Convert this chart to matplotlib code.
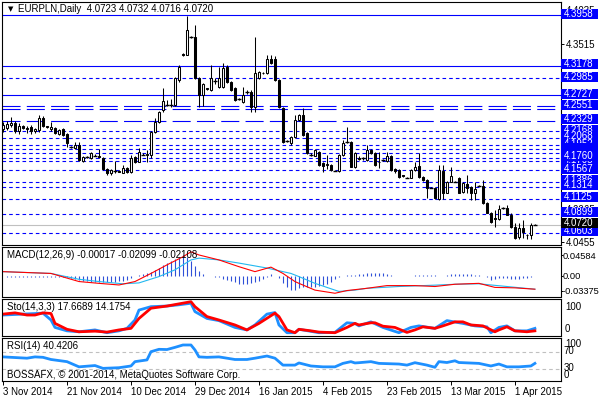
#!/usr/bin/env python3
"""
EURPLN daily candles with MACD, Stochastic and RSI panes, MetaTrader look.
"""

import matplotlib
matplotlib.use('Agg')
import matplotlib.pyplot as plt
from matplotlib.patches import Rectangle
from matplotlib.transforms import blended_transform_factory

plt.rcParams['font.family'] = ['Liberation Sans', 'DejaVu Sans']
plt.rcParams['font.size'] = 7
plt.rcParams['lines.scale_dashes'] = False

# ---- price bars (one per session, Sunday bars included) ----
opens = [
    4.2207, 4.2223, 4.2269, 4.2300, 4.2177, 4.2254, 4.2223, 4.2238, 4.2177, 4.2192,
    4.2377, 4.2254, 4.2207, 4.2223, 4.2130, 4.2207, 4.2130, 4.1938, 4.1915, 4.1961,
    4.1715, 4.1776, 4.1761, 4.1800, 4.1792, 4.1761, 4.1591, 4.1530, 4.1570, 4.1561,
    4.1530, 4.1607, 4.1545, 4.1776, 4.1699, 4.1815, 4.1800, 4.1807, 4.2161, 4.2315,
    4.2500, 4.2577, 4.2570, 4.2577, 4.2962, 4.3363, 4.3347, 4.3620, 4.3624, 4.2993,
    4.2731, 4.2820, 4.2808, 4.2940, 4.2854, 4.2854, 4.3162, 4.2931, 4.2839, 4.2660,
    4.2623, 4.2770, 4.2777, 4.2546, 4.2993, 4.3070, 4.3070, 4.3285, 4.3285, 4.2962,
    4.2531, 4.2020, 4.1992, 4.2084, 4.2346, 4.2423, 4.2146, 4.1810, 4.1792, 4.1854,
    4.1684, 4.1650, 4.1653, 4.1565, 4.1561, 4.1807, 4.2008, 4.2008, 4.1622, 4.1761,
    4.1745, 4.1730, 4.1884, 4.1838, 4.1699, 4.1725, 4.1715, 4.1792, 4.1580, 4.1576,
    4.1490, 4.1455, 4.1453, 4.1576, 4.1638, 4.1468, 4.1422, 4.1300, 4.1299, 4.1129,
    4.1561, 4.1222, 4.1391, 4.1395, 4.1453, 4.1237, 4.1360, 4.1314, 4.1222, 4.1330,
    4.1330, 4.1068, 4.0914, 4.0830, 4.0821, 4.0991, 4.0991, 4.0883, 4.0698, 4.0544,
    4.0683, 4.0575, 4.0560, 4.0723]
highs = [
    4.2315, 4.2330, 4.2392, 4.2330, 4.2300, 4.2269, 4.2254, 4.2269, 4.2223, 4.2423,
    4.2408, 4.2254, 4.2315, 4.2238, 4.2207, 4.2223, 4.2146, 4.1946, 4.2008, 4.2008,
    4.1792, 4.1792, 4.1854, 4.1810, 4.1900, 4.1776, 4.1600, 4.1590, 4.1715, 4.1565,
    4.1653, 4.1620, 4.1807, 4.1790, 4.1915, 4.1830, 4.1884, 4.2177, 4.2377, 4.2480,
    4.2839, 4.2654, 4.2670, 4.3010, 4.3193, 4.3380, 4.3948, 4.3640, 4.3809, 4.3000,
    4.2916, 4.2840, 4.3193, 4.2993, 4.3162, 4.3224, 4.3193, 4.2946, 4.2850, 4.2680,
    4.2854, 4.2800, 4.2800, 4.3624, 4.3100, 4.3085, 4.3347, 4.3347, 4.3330, 4.2980,
    4.2546, 4.2040, 4.2100, 4.2423, 4.2440, 4.2531, 4.2160, 4.1830, 4.1900, 4.1870,
    4.1700, 4.1807, 4.1670, 4.1575, 4.1820, 4.2038, 4.2238, 4.2020, 4.1850, 4.1780,
    4.1765, 4.1961, 4.1900, 4.1850, 4.1854, 4.1745, 4.1854, 4.1807, 4.1600, 4.1590,
    4.1500, 4.1470, 4.1590, 4.1699, 4.1838, 4.1480, 4.1430, 4.1310, 4.1310, 4.1653,
    4.1653, 4.1400, 4.1622, 4.1405, 4.1470, 4.1390, 4.1499, 4.1330, 4.1391, 4.1340,
    4.1422, 4.1080, 4.0930, 4.0960, 4.1037, 4.1005, 4.1037, 4.0900, 4.0760, 4.0760,
    4.0806, 4.0590, 4.0760, 4.0732]
lows = [
    4.2161, 4.2192, 4.2238, 4.2146, 4.2130, 4.2207, 4.2146, 4.2130, 4.2146, 4.2161,
    4.2238, 4.2223, 4.2177, 4.2130, 4.2115, 4.2100, 4.1930, 4.1915, 4.1900, 4.1715,
    4.1700, 4.1761, 4.1745, 4.1780, 4.1761, 4.1576, 4.1499, 4.1499, 4.1530, 4.1540,
    4.1520, 4.1530, 4.1530, 4.1684, 4.1690, 4.1800, 4.1699, 4.1761, 4.2146, 4.2300,
    4.2469, 4.2560, 4.2546, 4.2560, 4.2930, 4.3330, 4.3347, 4.3600, 4.2970, 4.2546,
    4.2562, 4.2810, 4.2790, 4.2900, 4.2840, 4.2840, 4.2910, 4.2790, 4.2630, 4.2650,
    4.2610, 4.2750, 4.2469, 4.2469, 4.2980, 4.3050, 4.3050, 4.3210, 4.2940, 4.2530,
    4.1980, 4.2000, 4.1961, 4.2070, 4.2330, 4.2100, 4.1820, 4.1790, 4.1780, 4.1640,
    4.1545, 4.1591, 4.1560, 4.1550, 4.1545, 4.1790, 4.1990, 4.1610, 4.1600, 4.1730,
    4.1730, 4.1715, 4.1820, 4.1640, 4.1607, 4.1715, 4.1700, 4.1560, 4.1530, 4.1450,
    4.1460, 4.1440, 4.1440, 4.1560, 4.1450, 4.1400, 4.1145, 4.1290, 4.1130, 4.1110,
    4.1129, 4.1210, 4.1380, 4.1380, 4.1210, 4.1220, 4.1222, 4.1114, 4.1114, 4.1320,
    4.1050, 4.0900, 4.0760, 4.0698, 4.0806, 4.0975, 4.0870, 4.0680, 4.0513, 4.0513,
    4.0529, 4.0513, 4.0513, 4.0716]
closes = [
    4.2269, 4.2284, 4.2300, 4.2177, 4.2254, 4.2223, 4.2207, 4.2177, 4.2207, 4.2377,
    4.2254, 4.2238, 4.2238, 4.2146, 4.2192, 4.2115, 4.1992, 4.1930, 4.1961, 4.1730,
    4.1776, 4.1770, 4.1838, 4.1792, 4.1776, 4.1591, 4.1530, 4.1576, 4.1561, 4.1545,
    4.1607, 4.1545, 4.1761, 4.1699, 4.1854, 4.1807, 4.1815, 4.2161, 4.2315, 4.2469,
    4.2639, 4.2570, 4.2577, 4.2993, 4.3162, 4.3347, 4.3732, 4.3624, 4.2993, 4.2731,
    4.2900, 4.2830, 4.2993, 4.2946, 4.2993, 4.3147, 4.2931, 4.2808, 4.2654, 4.2665,
    4.2731, 4.2777, 4.2546, 4.3070, 4.3085, 4.3060, 4.3285, 4.3224, 4.2962, 4.2546,
    4.2008, 4.2023, 4.2084, 4.2346, 4.2423, 4.2115, 4.1838, 4.1807, 4.1884, 4.1653,
    4.1638, 4.1660, 4.1576, 4.1561, 4.1807, 4.1992, 4.2000, 4.1622, 4.1838, 4.1745,
    4.1750, 4.1884, 4.1838, 4.1653, 4.1690, 4.1730, 4.1792, 4.1576, 4.1550, 4.1468,
    4.1480, 4.1453, 4.1576, 4.1622, 4.1468, 4.1422, 4.1299, 4.1299, 4.1145, 4.1576,
    4.1222, 4.1391, 4.1484, 4.1391, 4.1222, 4.1376, 4.1299, 4.1222, 4.1283, 4.1330,
    4.1068, 4.0914, 4.0775, 4.0821, 4.0975, 4.0991, 4.0883, 4.0698, 4.0529, 4.0683,
    4.0621, 4.0560, 4.0729, 4.0720]

# horizontal levels drawn on the chart
solid_levels = [4.3958, 4.3178, 4.2727]
long_dash_levels = [4.2551, 4.2510, 4.2329]
short_dash_levels = [4.2985, 4.2168, 4.2068, 4.1952, 4.1890, 4.1838, 4.1760, 4.1705,
                     4.1567, 4.1386, 4.1314, 4.1125, 4.0899, 4.0603]
# price tags on the right, in the order the terminal stacks them
tag_order = [4.3958, 4.3178, 4.2985, 4.2727, 4.2551, 4.2329, 4.2168, 4.2068, 4.1952,
             4.1890, 4.1838, 4.1705, 4.1760, 4.1567, 4.1386, 4.1314, 4.1125, 4.0899, 4.0603]
blank_tags = [4.1890, 4.1838]
last_price = 4.0720
price_scale = [4.4035, 4.3515, 4.0965, 4.0455]

# MACD(12,26,9)
macd_hist = [
    0, -0.002, -0.002, -0.002, -0.002, -0.002, -0.002, -0.002, -0.002, -0.002,
    -0.002, -0.002, -0.002, -0.002, -0.002, -0.002, -0.004, -0.006, -0.008, -0.010,
    -0.011, -0.012, -0.013, -0.014, -0.014, -0.014, -0.014, -0.013, -0.013, -0.012,
    -0.011, -0.009, -0.005, -0.001, 0.002, 0.004, 0.005, 0.009, 0.013, 0.018,
    0.024, 0.028, 0.032, 0.037, 0.042, 0.045, 0.042, 0.033, 0.022, 0.010,
    0.004, 0, 0, -0.002, -0.004, -0.007, -0.009, -0.012, -0.015, -0.018,
    -0.019, -0.019, -0.017, -0.014, -0.011, -0.008, -0.004, 0.003, 0, -0.006,
    -0.017, -0.025, -0.031, -0.032, -0.027, -0.025, -0.024, -0.024, -0.024, -0.023,
    -0.021, -0.019, -0.015, -0.008, -0.003, 0, 0.001, 0.002, 0.002, 0.003,
    0.004, 0.006, 0.006, 0.005, 0.005, 0.006, 0.004, 0.002, 0, 0,
    0, 0, 0, 0.001, 0.001, 0.001, 0.001, 0.001, 0.001, 0,
    0, 0.002, 0.003, 0.004, 0.004, 0.003, 0.003, 0.003, 0.002, 0.002,
    0, -0.003, -0.009, -0.008, -0.006, -0.006, -0.006, -0.008, -0.008, -0.007,
    -0.006, -0.005, -0.003, 0]
macd_x = [0, 12, 19, 24, 29, 33, 37, 41, 45, 47, 49, 54, 59, 63, 67, 70, 73, 74, 78, 83,
          86, 91, 96, 103, 108, 113, 119, 123, 128, 133]
macd_main = [0.009, 0.005, -0.013, -0.017, -0.0206, -0.013, 0.005, 0.024, 0.042, 0.053,
             0.046, 0.035, 0.020, 0.009, 0.019, 0.005, -0.013, -0.017, -0.032, -0.039,
             -0.033, -0.028, -0.022, -0.022, -0.024, -0.019, -0.017, -0.026, -0.027, -0.030]
signal_x = [0, 12, 19, 24, 30, 34, 39, 43, 47, 49, 54, 59, 66, 72, 74, 78, 84, 88, 91, 99,
            108, 113, 119, 126, 133]
macd_signal = [0.009, 0.005, -0.008, -0.013, -0.018, -0.016, -0.002, 0.013, 0.035, 0.039,
               0.035, 0.028, 0.017, 0.005, -0.002, -0.017, -0.035, -0.032, -0.028, -0.024,
               -0.021, -0.019, -0.018, -0.024, -0.030]
macd_scale = [0.04584, 0.0, -0.03375]
macd_scale_labels = ['0.04584', '0.00', '-0.03375']

# Stochastic(14,3,3)
sto_main_x = [0, 10, 12, 13, 16, 19, 23, 26, 29, 31, 33, 34, 37, 41, 44, 47, 48, 51, 54, 58,
              61, 63, 66, 68, 69, 71, 73, 74, 79, 83, 86, 88, 89, 92, 95, 99, 102, 104, 108, 111,
              115, 118, 121, 122, 124, 126, 128, 131, 133]
sto_main = [57, 63, 41, 17, 6, 3, 9, 0, 6, 14, 41, 73, 84, 86, 90, 95, 68, 46, 39, 17,
            9, 25, 60, 65, 25, 0, 0, 11, 0, 1, 32, 30, 22, 35, 17, 0, 17, 22, 14, 39,
            30, 22, 19, 0, 17, 22, 6, 6, 14]
sto_sig_x = [0, 3, 6, 8, 10, 12, 13, 16, 19, 23, 26, 29, 32, 34, 37, 41, 44, 47, 48, 51,
             54, 58, 61, 64, 68, 69, 71, 73, 74, 77, 79, 83, 86, 88, 89, 92, 93, 95, 98, 101,
             103, 105, 108, 110, 113, 115, 117, 120, 123, 124, 126, 128, 131, 133]
sto_signal = [60, 64, 57, 57, 64, 62, 30, 11, 3, 5, 2, 9, 14, 46, 79, 86, 93, 100, 84, 52,
              41, 25, 9, 30, 63, 52, 9, 0, 11, 6, 2, 0, 17, 30, 25, 32, 32, 21, 17, 1,
              9, 19, 14, 22, 35, 35, 25, 22, 3, 9, 19, 6, 3, 6]

# RSI(14)
rsi_x = [0, 6, 8, 10, 12, 16, 19, 23, 25, 29, 32, 33, 36, 37, 39, 41, 43, 45, 47, 48,
         49, 51, 54, 58, 61, 63, 66, 68, 70, 73, 74, 77, 80, 83, 85, 87, 88, 89, 92, 94,
         99, 101, 103, 106, 108, 109, 111, 113, 114, 119, 122, 124, 126, 129, 132, 133]
rsi_vals = [58, 55, 58, 57, 52, 47, 35, 38, 31.5, 33, 37, 47, 51, 70, 75.5, 75, 80, 85.5, 85.5, 74,
            58, 57, 58, 52, 52, 55, 60, 55, 39, 39, 44, 37, 35, 35, 43, 47, 44, 44.6, 47, 43,
            41.5, 39, 44.6, 39, 34, 47, 45, 49, 45, 43, 37, 41.5, 35, 35, 37, 43]
rsi_levels = [70, 30]

date_ticks = [0, 16, 32, 48, 64, 80, 96, 112, 128]
date_labels = ['3 Nov 2014', '21 Nov 2014', '10 Dec 2014', '29 Dec 2014', '16 Jan 2015',
               '4 Feb 2015', '23 Feb 2015', '13 Mar 2015', '1 Apr 2015']

BLUE = '#0000FF'
W, H = 600, 400
LEFT, RIGHT = 2, 560.5


def main():
    fig = plt.figure(figsize=(W / 100, H / 100), dpi=100)
    fig.patch.set_facecolor('white')

    def panel(top, bottom):
        ax = fig.add_axes([LEFT / W, 1 - bottom / H, (RIGHT - LEFT) / W, (bottom - top) / H])
        ax.set_xlim(-0.25, 139.4)
        ax.set_xticks([])
        ax.set_yticks([])
        for s in ax.spines.values():
            s.set_linewidth(0.8)
        return ax

    def ax_frac(px):
        return (px - LEFT) / (RIGHT - LEFT)

    def fig_text(x, y, s, **kw):
        fig.text(x / W, 1 - y / H, s, va='center', ha='left', **kw)

    # ---- main price pane ----
    ax = panel(2, 245)
    ymin, ymax = 4.04133, 4.41632
    ax.set_ylim(ymin, ymax)
    per_px = (ymax - ymin) / (245 - 2)

    for p in solid_levels:
        ax.axhline(p, color=BLUE, lw=0.8, zorder=2)
    for p in long_dash_levels:
        ax.axhline(p, color=BLUE, lw=0.8, dashes=(13, 4.5), zorder=2)
    for p in short_dash_levels:
        ax.axhline(p, color=BLUE, lw=0.8, dashes=(2.6, 2.2), zorder=2)
    ax.axhline(last_price, color='#c0c0c0', lw=0.8, zorder=1)

    idx = list(range(len(closes)))
    ax.vlines(idx, lows, highs, color='black', lw=0.75, zorder=3)
    for i, (o, c) in enumerate(zip(opens, closes)):
        lo, hi = min(o, c), max(o, c)
        if hi - lo < 0.0009:
            ax.hlines(c, i - 0.45, i + 0.45, color='black', lw=1.0, zorder=4)
        else:
            ax.add_patch(Rectangle((i - 0.28, lo), 0.56, hi - lo,
                                   facecolor='white' if c > o else 'black',
                                   edgecolor='black', lw=0.75, zorder=4))

    # right price scale
    ax.yaxis.tick_right()
    ax.set_yticks(price_scale, [f'{p:.4f}' for p in price_scale])
    ax.tick_params(axis='y', length=2.2, width=0.7, pad=1.4, labelsize=7)

    # price tags for the levels, later ones stacked over earlier ones
    blend = blended_transform_factory(ax.transAxes, ax.transData)
    z = [10]

    def tag(p, fc, label=True, lift_px=1.5):
        mid = p + lift_px * per_px
        ax.add_patch(Rectangle((ax_frac(561.5), mid - 5.0 * per_px), 36.5 / (RIGHT - LEFT),
                               10.0 * per_px, transform=blend, facecolor=fc,
                               edgecolor='none', clip_on=False, zorder=z[0]))
        if label:
            ax.text(ax_frac(564), mid, f'{p:.4f}', transform=blend, color='white',
                    va='center', ha='left', clip_on=False, zorder=z[0] + 0.5)
        z[0] += 1

    for p in tag_order:
        tag(p, BLUE, p not in blank_tags)
    tag(last_price, 'black', lift_px=2.6)

    fig_text(7.5, 9.5, '\u25bc', fontsize=5, family='DejaVu Sans')
    fig_text(18, 9.5, 'EURPLN,Daily  {:.4f} {:.4f} {:.4f} {:.4f}'.format(
        opens[-1], highs[-1], lows[-1], closes[-1]))

    # ---- MACD pane ----
    axm = panel(247, 296.5)
    axm.set_ylim(-0.0462, 0.0637)
    axm.vlines(idx, 0, macd_hist, color='#2f50d8', lw=0.8)
    axm.plot(signal_x, macd_signal, color='#22b8f0', lw=0.8)
    axm.plot(macd_x, macd_main, color='#ff0000', lw=0.8)
    axm.yaxis.tick_right()
    axm.set_yticks(macd_scale, macd_scale_labels)
    axm.tick_params(axis='y', length=1.5, width=0.7, pad=0.3, labelsize=6.7)
    fig_text(7, 254.5, 'MACD(12,26,9) -0.00017 -0.02099 -0.02108')

    # ---- Stochastic pane ----
    axs = panel(299, 335.5)
    axs.set_ylim(-9, 108.7)
    axs.plot(sto_main_x, sto_main, color='#1e90ff', lw=2.0)
    axs.plot(sto_sig_x, sto_signal, color='#ff0000', lw=2.0)
    fig_text(7, 307.5, 'Sto(14,3,3) 17.6689 14.1754')

    def side_label(a, val, s, dy_px, x_px=565):
        a.annotate(s, xy=(ax_frac(x_px), val),
                   xycoords=blended_transform_factory(a.transAxes, a.transData),
                   xytext=(0, -dy_px * 0.72), textcoords='offset points',
                   va='center', ha='left', annotation_clip=False)

    side_label(axs, 100, '100', 5)
    side_label(axs, 0, '0', -3.7)

    # ---- RSI pane ----
    axr = panel(337.5, 381)
    axr.set_ylim(2.3, 102.8)
    for lv in rsi_levels:
        axr.axhline(lv, color='#c0c0c0', lw=0.8, dashes=(2.6, 2.2))
    axr.plot(rsi_x, rsi_vals, color='#1e90ff', lw=2.0)
    fig_text(7, 346, 'RSI(14) 40.4206')
    fig_text(7, 375, 'BOSSAFX, \u00a9 2001-2014, MetaQuotes Software Corp.')
    side_label(axr, 100, '100', 5.3)
    side_label(axr, 70, '70', -1, x_px=563.5)
    side_label(axr, 30, '30', -0.7, x_px=563.5)
    side_label(axr, 0, '0', -7, x_px=563.5)

    axr.set_xticks(date_ticks, date_labels)
    axr.tick_params(axis='x', length=3, width=0.7, pad=1.5, labelsize=7)
    for lbl in axr.get_xticklabels():
        lbl.set_horizontalalignment('left')

    fig.savefig('out.png', dpi=100, facecolor='white')


if __name__ == '__main__':
    main()
